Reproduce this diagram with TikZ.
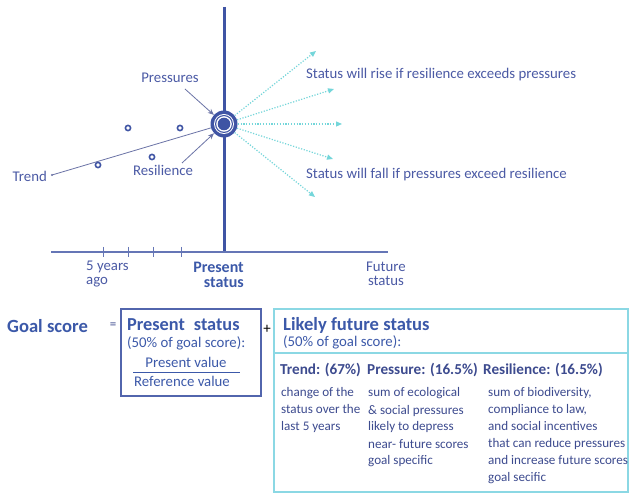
\documentclass[tikz,border=0pt]{standalone}
\usepackage{fontspec}
\setmainfont{Carlito}
\usetikzlibrary{arrows.meta}
\definecolor{axisblue}{HTML}{3F54A4}
\definecolor{txtblue}{HTML}{4B5AA5}
\definecolor{headblue}{HTML}{3C59A9}
\definecolor{navy}{HTML}{3D4B8F}
\definecolor{aqua}{HTML}{74D6DA}
\definecolor{boxaqua}{HTML}{8BD8E4}
\definecolor{trendgray}{HTML}{6B73A6}
\begin{document}
\begin{tikzpicture}[x=1pt,y=-1pt,
  lbl/.style={inner sep=0pt,text=txtblue,font=\fontsize{14.8}{14}\selectfont},
  head/.style={inner sep=0pt,text=headblue,font=\bfseries\fontsize{18.6}{20}\selectfont},
  sub/.style={inner sep=0pt,text=headblue,font=\fontsize{14.8}{16}\selectfont},
  colhead/.style={inner sep=0pt,text=navy,font=\bfseries\fontsize{15.2}{16}\selectfont},
  coltext/.style={inner sep=0pt,text=navy,align=left,font=\fontsize{13.1}{17}\selectfont},
  pointer/.style={trendgray,line width=0.8pt,-{Stealth[length=6pt,width=5pt]}},
  future/.style={aqua,line width=1.2pt,dash pattern=on 1.2pt off 1.6pt,-{Triangle[length=6pt,width=5pt]}}]
  \pgfmathsetmacro{\axisy}{252}
  \pgfmathsetmacro{\nowx}{224}
  \pgfmathsetmacro{\nowy}{124}
  \useasboundingbox[fill=white] (0,0) rectangle (630,494);
  \draw[axisblue,line width=3pt] (\nowx,7) -- (\nowx,\axisy);
  \draw[axisblue!80,line width=1.3pt] (51,\axisy) -- (388,\axisy);
  \foreach \x in {103,128,153,181} \draw[axisblue!80,line width=1pt] (\x,\axisy-5) -- (\x,\axisy+5);
  \foreach \px/\py in {98/165,128/128,152/157,180/128} \draw[axisblue,line width=1.6pt] (\px,\py) circle (2.6pt);
  \node[circle,fill=axisblue,minimum size=27pt,inner sep=0pt] (status) at (\nowx,\nowy) {};
  \fill[white] (status) circle (10pt);
  \fill[axisblue] (status) circle (9pt);
  \fill[white] (status) circle (7.8pt);
  \fill[axisblue] (status) circle (6.3pt);
  \node[lbl,anchor=base east] (trend) at (47,182) {Trend};
  \coordinate (trendstart) at (52,175);
  \fill[trendgray] (trendstart) circle (1.2pt);
  \draw[trendgray,line width=0.8pt] (trendstart) -- (status);
  \node[lbl,anchor=base] (pressures) at (170,83) {Pressures};
  \coordinate (ptail) at (185,89);
  \draw[pointer] (ptail) -- (status);
  \node[lbl,anchor=base] (resilience) at (163,176) {Resilience};
  \coordinate (rtail) at (182,163);
  \draw[pointer] (rtail) -- (status);
  \foreach \ex/\ey [count=\i] in {316/51,334/89,342/124,333/159,315/197} {
    \coordinate (f\i) at (\ex,\ey);
    \draw[future] (status) -- (f\i);
  }
  \node[lbl,anchor=base west] (rise) at (306,79) {Status will rise if resilience exceeds pressures};
  \node[lbl,anchor=base west] (fall) at (306,179) {Status will fall if pressures exceed resilience};
  \node[lbl,anchor=base west,align=left] (ago) at (86,285) {5 years\\ago};
  \node[inner sep=0pt,text=headblue,anchor=base east,align=right,font=\bfseries\fontsize{16}{15.5}\selectfont] (now) at (244,288) {Present\\status};
  \node[lbl,anchor=base,align=center] (later) at (386,286) {Future\\status};
  \node[head,anchor=base west] (goal) at (7,333) {Goal score};
  \node[inner sep=0pt,text=navy,font=\fontsize{13}{13}\selectfont] (eq) at (113,326) {=};
  \node[draw=axisblue!90,line width=2pt,minimum width=140pt,minimum height=87pt,inner sep=0pt] (presentbox) at (191,352.5) {};
  \node[head,anchor=base west,font=\bfseries\fontsize{18.3}{20}\selectfont] (pstitle) at (127,331) {Present\hspace{9pt}status};
  \node[sub,anchor=base west] (pshalf) at (127,348) {(50\% of goal score):};
  \node[sub,anchor=base] (pval) at (186,368) {Present value};
  \node[sub,anchor=base] (rval) at (182,387) {Reference value};
  \draw[headblue,line width=1pt] (133,373) -- (240,373);
  \node[inner sep=0pt,text=black,font=\fontsize{15}{15}\selectfont] (plus) at (267,329) {+};
  \node[draw=boxaqua,line width=1.5pt,minimum width=354pt,minimum height=183pt,inner sep=0pt] (likelybox) at (451,400.5) {};
  \draw[boxaqua,line width=1.2pt] (274,353) -- (628,353);
  \node[head,anchor=base west] (lftitle) at (283,331) {Likely future status};
  \node[sub,anchor=base west] (lfhalf) at (283,347) {(50\% of goal score):};
  \node[colhead,anchor=base west] (trendhead) at (280,375) {Trend: (67\%)};
  \node[colhead,anchor=base west] (pressurehead) at (367,375) {Pressure: (16.5\%)};
  \node[colhead,anchor=base west] (resiliencehead) at (483,375) {Resilience: (16.5\%)};
  \node[coltext,anchor=base west] (trendtext) at (281,431) {change of the\\status over the\\last 5 years};
  \node[coltext,anchor=base west] (pressuretext) at (368,465) {sum of ecological\\\& social pressures\\likely to depress\\near- future scores\\goal specific};
  \node[coltext,anchor=base west] (resiliencetext) at (488,482) {sum of biodiversity,\\compliance to law,\\and social incentives\\that can reduce pressures\\and increase future scores\\goal secific};
\end{tikzpicture}
\end{document}
